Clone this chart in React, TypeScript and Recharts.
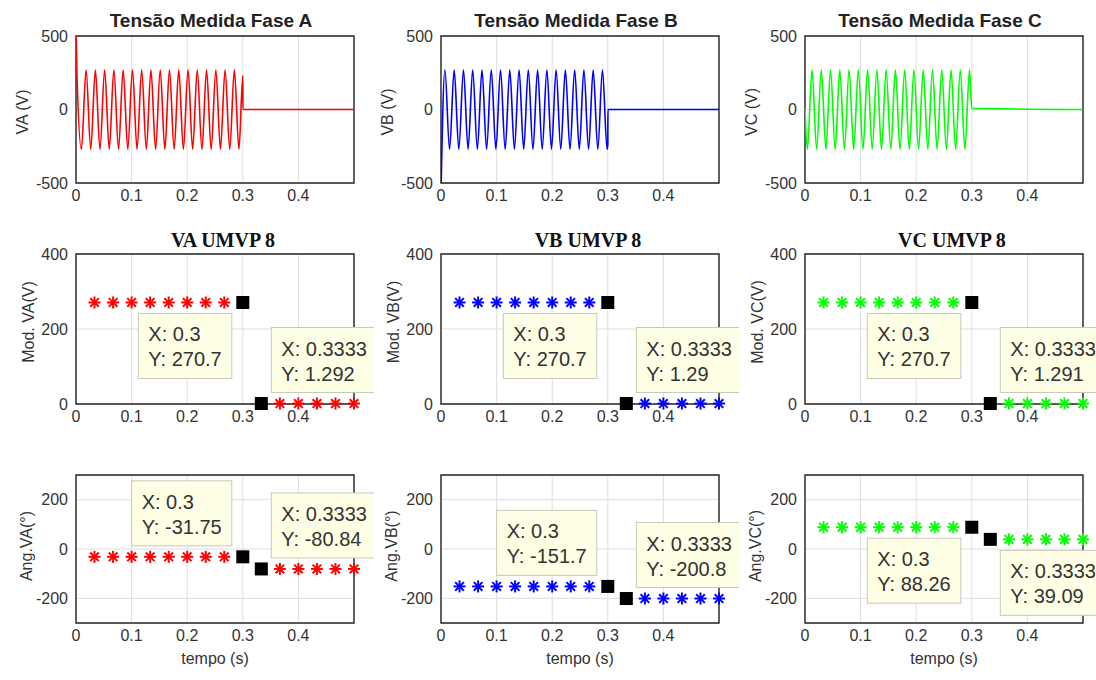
import React from "react";
import {
  ComposedChart,
  Line,
  Scatter,
  XAxis,
  YAxis,
  CartesianGrid,
  ReferenceArea,
} from "recharts";

const tWaveA = [
  0, 0.0015, 0.0098, 0.0181, 0.0265, 0.0348, 0.0431, 0.0515, 0.0598, 0.0681, 0.0765, 0.0848, 0.0931,
  0.1015, 0.1098, 0.1181, 0.1265, 0.1348, 0.1431, 0.1515, 0.1598, 0.1681, 0.1765, 0.1848, 0.1931,
  0.2015, 0.2098, 0.2181, 0.2265, 0.2348, 0.2431, 0.2515, 0.2598, 0.2681, 0.2765, 0.2848, 0.2931,
  0.3, 0.3002, 0.5,
];
const vWaveA = [
  560,
  270.7, -270.7, 270.7, -270.7, 270.7, -270.7, 270.7, -270.7, 270.7, -270.7, 270.7, -270.7,
  270.7, -270.7, 270.7, -270.7, 270.7, -270.7, 270.7, -270.7, 270.7, -270.7, 270.7, -270.7,
  270.7, -270.7, 270.7, -270.7, 270.7, -270.7, 270.7, -270.7, 270.7, -270.7, 270.7, -270.7,
  230, 0, 0,
];

const tWaveB = [
  0, 0.007, 0.0154, 0.0237, 0.032, 0.0404, 0.0487, 0.057, 0.0654, 0.0737, 0.082, 0.0904, 0.0987,
  0.107, 0.1154, 0.1237, 0.132, 0.1404, 0.1487, 0.157, 0.1654, 0.1737, 0.182, 0.1904, 0.1987,
  0.207, 0.2154, 0.2237, 0.232, 0.2404, 0.2487, 0.257, 0.2654, 0.2737, 0.282, 0.2904, 0.2987,
  0.3, 0.3002, 0.5,
];
const vWaveB = [
  -560,
  270.7, -270.7, 270.7, -270.7, 270.7, -270.7, 270.7, -270.7, 270.7, -270.7, 270.7, -270.7,
  270.7, -270.7, 270.7, -270.7, 270.7, -270.7, 270.7, -270.7, 270.7, -270.7, 270.7, -270.7,
  270.7, -270.7, 270.7, -270.7, 270.7, -270.7, 270.7, -270.7, 270.7, -270.7, 270.7, -270.7,
  -238, 0, 0,
];

const tWaveC = [
  0, 0.0043, 0.0126, 0.0209, 0.0293, 0.0376, 0.0459, 0.0543, 0.0626, 0.0709, 0.0793, 0.0876, 0.0959,
  0.1043, 0.1126, 0.1209, 0.1293, 0.1376, 0.1459, 0.1543, 0.1626, 0.1709, 0.1793, 0.1876, 0.1959,
  0.2043, 0.2126, 0.2209, 0.2293, 0.2376, 0.2459, 0.2543, 0.2626, 0.2709, 0.2793, 0.2876, 0.2959,
  0.3, 0.5,
];
const vWaveC = [
  8,
  -270.7, 270.7, -270.7, 270.7, -270.7, 270.7, -270.7, 270.7, -270.7, 270.7, -270.7, 270.7,
  -270.7, 270.7, -270.7, 270.7, -270.7, 270.7, -270.7, 270.7, -270.7, 270.7, -270.7, 270.7,
  -270.7, 270.7, -270.7, 270.7, -270.7, 270.7, -270.7, 270.7, -270.7, 270.7, -270.7, 270.7,
  8, 0,
];

// ---- phasor estimates (UMVP 8) ----
const tSamples = [0.0333, 0.0667, 0.1, 0.1333, 0.1667, 0.2, 0.2333, 0.2667, 0.3, 0.3333, 0.3667, 0.4, 0.4333, 0.4667, 0.5];

const modVA = [270.7, 270.7, 270.7, 270.7, 270.7, 270.7, 270.7, 270.7, 270.7, 1.292, 1.292, 1.292, 1.292, 1.292, 1.292];
const modVB = [270.7, 270.7, 270.7, 270.7, 270.7, 270.7, 270.7, 270.7, 270.7, 1.29, 1.29, 1.29, 1.29, 1.29, 1.29];
const modVC = [270.7, 270.7, 270.7, 270.7, 270.7, 270.7, 270.7, 270.7, 270.7, 1.291, 1.291, 1.291, 1.291, 1.291, 1.291];

const angVA = [-31.75, -31.75, -31.75, -31.75, -31.75, -31.75, -31.75, -31.75, -31.75, -80.84, -80.84, -80.84, -80.84, -80.84, -80.84];
const angVB = [-151.7, -151.7, -151.7, -151.7, -151.7, -151.7, -151.7, -151.7, -151.7, -200.8, -200.8, -200.8, -200.8, -200.8, -200.8];
const angVC = [88.26, 88.26, 88.26, 88.26, 88.26, 88.26, 88.26, 88.26, 88.26, 39.09, 39.09, 39.09, 39.09, 39.09, 39.09];

// data tips sit on these sample indices
const tipIndex = [8, 9];

const xTicks = [0, 0.1, 0.2, 0.3, 0.4];
const wavTicks = [-500, 0, 500];
const modTicks = [0, 200, 400];
const angTicks = [-200, 0, 200];

const titlesWave = ["Tensão Medida Fase A", "Tensão Medida Fase B", "Tensão Medida Fase C"];
const titlesMod = ["VA UMVP 8", "VB UMVP 8", "VC UMVP 8"];
const labelsWave = ["VA (V)", "VB (V)", "VC (V)"];
const labelsMod = ["Mod. VA(V)", "Mod. VB(V)", "Mod. VC(V)"];
const labelsAng = ["Ang.VA(°)", "Ang.VB(°)", "Ang.VC(°)"];

// ---- layout ----
const FONT = "'Liberation Sans', Arial, sans-serif";
const SERIF = "'Liberation Serif', 'Times New Roman', serif";
const TEXT = "#333333";
const PLOT_W = 278;
const colLeft = [76, 441, 805];
const colors = ["#FF0000", "#0000FF", "#00FF00"];
const ROW1 = { top: 36, h: 147 };
const ROW2 = { top: 254, h: 150 };
const ROW3 = { top: 475, h: 148 };

// data tip placement: [horizontal, vertical] per tip
const tipPlaceMod = [["left", "below"], ["right", "above"]];
const tipPlaceAng = [
  [["left", "above"], ["right", "above"]],
  [["left", "above"], ["right", "above"]],
  [["left", "below"], ["right", "below"]],
];

const charW: Record<string, number> = { X: 0.667, Y: 0.667, ":": 0.278, " ": 0.278, ".": 0.278, "-": 0.333 };
const textWidth = (s: string, size: number) =>
  s.split("").reduce((acc, c) => acc + (charW[c] ?? 0.556), 0) * size;

const tickStyle = { fontSize: 16, fill: TEXT, fontFamily: FONT };

const makeStar = (color: string) => (props: any) => {
  const { cx, cy } = props;
  if (cx == null || cy == null) return <g />;
  const r = 6;
  const d = r * 0.72;
  return (
    <g stroke={color} strokeWidth={2}>
      <line x1={cx - r} y1={cy} x2={cx + r} y2={cy} />
      <line x1={cx} y1={cy - r} x2={cx} y2={cy + r} />
      <line x1={cx - d} y1={cy - d} x2={cx + d} y2={cy + d} />
      <line x1={cx - d} y1={cy + d} x2={cx + d} y2={cy - d} />
    </g>
  );
};

const TipShape = (props: any) => {
  const { cx, cy, payload } = props;
  if (cx == null || cy == null) return <g />;
  const line1 = `X: ${payload.t}`;
  const line2 = `Y: ${payload.v}`;
  const w = Math.max(textWidth(line1, 20), textWidth(line2, 20)) + 19;
  const h = 65;
  const left = payload.side === "left" ? cx - 11 - w : cx + 10;
  const top = payload.vert === "below" ? cy + 11 : cy - 76;
  return (
    <g>
      <rect x={cx - 6.5} y={cy - 6.5} width={13} height={13} fill="#000" />
      <rect x={left} y={top} width={w} height={h} fill="#FFFFE6" stroke="#C9C9B8" strokeWidth={1} />
      <text x={left + 10} y={top + 28} fontSize={20} fontFamily={FONT} fill={TEXT}>
        {line1}
      </text>
      <text x={left + 10} y={top + 53} fontSize={20} fontFamily={FONT} fill={TEXT}>
        {line2}
      </text>
    </g>
  );
};

interface PanelProps {
  left: number;
  top: number;
  height: number;
  data: { t: number; v: number }[];
  yDomain: [number, number];
  yTicks: number[];
  clip?: boolean;
  children?: React.ReactNode;
}

function Panel({ left, top, height, data, yDomain, yTicks, clip, children }: PanelProps) {
  const W = PLOT_W + 80;
  const H = height + 50;
  return (
    <div style={{ position: "absolute", left: left - 60, top: top - 10, width: W, height: H }}>
      <ComposedChart
        width={W}
        height={H}
        data={data}
        margin={{ top: 10, right: 20, bottom: 10, left: 0 }}
        style={{ overflow: "visible" }}
      >
        <CartesianGrid stroke="#DEDEDE" strokeWidth={1} />
        <XAxis
          type="number"
          dataKey="t"
          domain={[0, 0.5]}
          ticks={xTicks}
          axisLine={false}
          tickLine={false}
          tickSize={0}
          tickMargin={7}
          height={30}
          tick={tickStyle}
          allowDataOverflow={!!clip}
        />
        <YAxis
          type="number"
          dataKey="v"
          domain={yDomain}
          ticks={yTicks}
          axisLine={false}
          tickLine={false}
          tickSize={0}
          tickMargin={8}
          width={60}
          tick={tickStyle}
          allowDataOverflow={!!clip}
        />
        {children}
        <ReferenceArea
          x1={0}
          x2={0.5}
          y1={yDomain[0]}
          y2={yDomain[1]}
          fill="none"
          stroke="#262626"
          strokeWidth={1.4}
          ifOverflow="visible"
        />
      </ComposedChart>
    </div>
  );
}

const toPoints = (ts: number[], vs: number[]) => ts.map((t, i) => ({ t, v: vs[i] }));

const waves = [toPoints(tWaveA, vWaveA), toPoints(tWaveB, vWaveB), toPoints(tWaveC, vWaveC)];
const mods = [modVA, modVB, modVC].map((vs) => toPoints(tSamples, vs));
const angs = [angVA, angVB, angVC].map((vs) => toPoints(tSamples, vs));

const tipsFor = (pts: { t: number; v: number }[], place: string[][]) =>
  tipIndex.map((idx, k) => ({ ...pts[idx], side: place[k][0], vert: place[k][1] }));

export default function App() {
  return (
    <div
      style={{
        position: "absolute",
        left: 0,
        top: 0,
        width: 1096,
        height: 680,
        overflow: "hidden",
        background: "#fff",
        fontFamily: FONT,
      }}
    >
      {colLeft.map((left, c) => (
        <React.Fragment key={c}>
          <Panel left={left} top={ROW1.top} height={ROW1.h} data={waves[c]} yDomain={[-500, 500]} yTicks={wavTicks} clip>
            <Line type="monotoneX" dataKey="v" stroke={colors[c]} strokeWidth={1.6} dot={false} isAnimationActive={false} />
          </Panel>
          <Panel left={left} top={ROW2.top} height={ROW2.h} data={mods[c]} yDomain={[0, 400]} yTicks={modTicks}>
            <Scatter dataKey="v" shape={makeStar(colors[c])} isAnimationActive={false} />
            <Scatter data={tipsFor(mods[c], tipPlaceMod)} dataKey="v" shape={TipShape} isAnimationActive={false} />
          </Panel>
          <Panel left={left} top={ROW3.top} height={ROW3.h} data={angs[c]} yDomain={[-300, 300]} yTicks={angTicks}>
            <Scatter dataKey="v" shape={makeStar(colors[c])} isAnimationActive={false} />
            <Scatter data={tipsFor(angs[c], tipPlaceAng[c])} dataKey="v" shape={TipShape} isAnimationActive={false} />
          </Panel>
        </React.Fragment>
      ))}

      {/* titles and axis labels */}
      <svg width={1096} height={680} style={{ position: "absolute", left: 0, top: 0, pointerEvents: "none" }}>
        {colLeft.map((left, c) => {
          const mid = left + PLOT_W / 2;
          return (
            <g key={c} fill={TEXT}>
              <text x={mid - 4} y={27} textAnchor="middle" fontSize={19} fontWeight="bold" fontFamily={FONT} fill="#222">
                {titlesWave[c]}
              </text>
              <text x={mid + 8} y={247} textAnchor="middle" fontSize={20} fontWeight="bold" fontFamily={SERIF} fill="#111">
                {titlesMod[c]}
              </text>
              <text
                transform={`translate(${left - 54}, 112) rotate(-90)`}
                textAnchor="middle"
                dominantBaseline="central"
                fontSize={16}
                fontFamily={FONT}
              >
                {labelsWave[c]}
              </text>
              <text
                transform={`translate(${left - 48}, 322) rotate(-90)`}
                textAnchor="middle"
                dominantBaseline="central"
                fontSize={16}
                fontFamily={FONT}
              >
                {labelsMod[c]}
              </text>
              <text
                transform={`translate(${left - 50}, 546) rotate(-90)`}
                textAnchor="middle"
                dominantBaseline="central"
                fontSize={16}
                fontFamily={FONT}
              >
                {labelsAng[c]}
              </text>
              <text x={mid} y={664} textAnchor="middle" fontSize={16} fontFamily={FONT}>
                tempo (s)
              </text>
            </g>
          );
        })}
      </svg>
    </div>
  );
}
